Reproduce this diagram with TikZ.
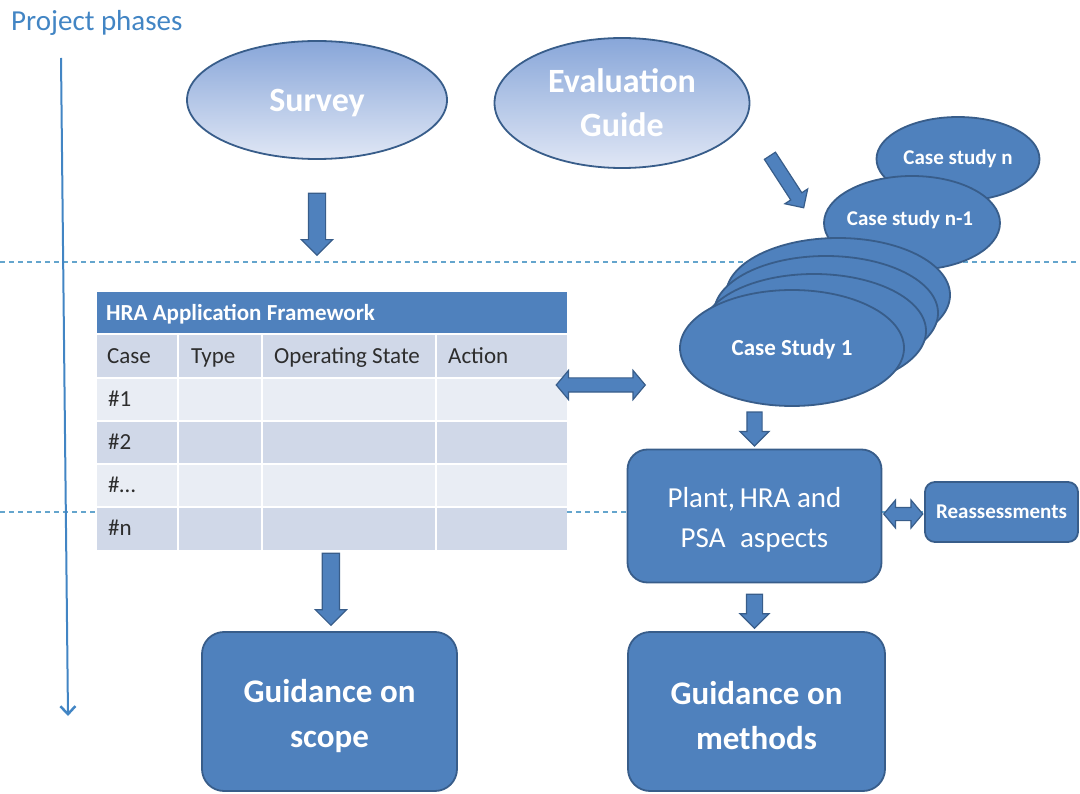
\documentclass[tikz,border=0pt]{standalone}
\usepackage{fontspec}
\setmainfont{Carlito}
\usetikzlibrary{shapes.geometric,shapes.arrows,calc,arrows.meta}

\definecolor{accent}{RGB}{79,129,189}
\definecolor{accentdark}{RGB}{56,93,138}
\definecolor{ellTop}{RGB}{136,166,217}
\definecolor{ellBot}{RGB}{224,231,245}
\definecolor{cellA}{RGB}{208,216,232}
\definecolor{cellB}{RGB}{233,237,244}
\definecolor{phase}{RGB}{66,133,196}
\definecolor{dashc}{RGB}{100,165,205}
\definecolor{celltext}{RGB}{45,45,45}

% invisible strut that pushes a label's first line down a little
\newcommand\topstrut[1]{\rule{0pt}{#1}}

\tikzset{
  fnt/.style n args={2}{font=\fontsize{#1}{#2}\selectfont},
  bfnt/.style n args={2}{font=\fontsize{#1}{#2}\selectfont\bfseries},
  ell/.style={ellipse, draw=accentdark, line width=1.8pt, top color=ellTop,
    bottom color=ellBot, text=white, inner sep=0pt, align=center},
  cse/.style={ellipse, draw=accentdark, line width=1.8pt, fill=accent,
    text=white, inner sep=0pt, align=center},
  box/.style={rectangle, draw=accentdark, line width=1.8pt, fill=accent,
    text=white, inner sep=0pt, align=center},
  % #1 = half shaft width, arrow head extend set separately
  barrow/.style={single arrow, draw=accentdark, fill=accent, line width=1.2pt,
    inner xsep=0pt, inner ysep=#1, minimum width=0pt, single arrow head indent=0pt},
  darrow/.style={double arrow, draw=accentdark, fill=accent, line width=1.2pt,
    inner xsep=0pt, inner ysep=#1, minimum width=0pt, double arrow head indent=0pt,
    double arrow tip angle=100},
  sepline/.style={dashc, line width=1.1pt, dash pattern=on 5pt off 4pt},
  celltxt/.style={anchor=base west, inner sep=0pt, text=celltext, fnt={23}{27}},
}

\begin{document}
\begin{tikzpicture}[x=1pt,y=-1pt]
\useasboundingbox (0,0) rectangle (1080,794);

% phase separators
\coordinate (sepAl) at (0,262);   \coordinate (sepAr) at (1080,262);
\coordinate (sepBl) at (0,512);   \coordinate (sepBr) at (1080,512);
\draw[sepline] (sepAl) -- (sepAr);
\draw[sepline] (sepBl) -- (sepBr);

% project phases axis
\node[anchor=west, inner sep=0pt, text=phase, fnt={29}{35}] (phases) at (11,23) {Project phases};
\coordinate (ptop) at (61,58);
\coordinate (pbot) at (68,716);
\draw[phase, line width=2pt, -{Straight Barb[length=8pt,width=15pt,line width=2.5pt]}] (ptop) -- (pbot);

% inputs
\node[ell, bfnt={34}{44}, minimum width=260pt, minimum height=118pt] (survey) at (317,100) {\topstrut{28pt}Survey};
\node[ell, bfnt={34}{44}, minimum width=255pt, minimum height=130pt] (eval) at (622,103) {Evaluation\\Guide};

% stack of case studies, back to front
\node[cse, bfnt={21}{25}, minimum width=163pt, minimum height=84pt] (csn) at (958,159) {};
\node[bfnt={21}{25}, text=white, inner sep=0pt] (csnlbl) at (958,159) {Case study n};
\node[cse, bfnt={21}{25}, minimum width=176pt, minimum height=94pt] (csn1) at (912,223) {};
\node[bfnt={21}{25}, text=white, inner sep=0pt] (csn1lbl) at (910,220) {Case study n-1};
\node[cse, minimum width=224pt, minimum height=114pt] (cs4) at (838,295) {};
\node[cse, minimum width=224pt, minimum height=114pt] (cs3) at (826,313) {};
\node[cse, minimum width=224pt, minimum height=114pt] (cs2) at (814,331) {};
\node[cse, bfnt={23}{27}, minimum width=224pt, minimum height=116pt] (cs1) at (792,348) {\topstrut{19pt}Case Study 1};

% HRA application framework table
\node[minimum width=470pt, minimum height=258pt, inner sep=0pt] (tbl) at (332,421) {};
\fill[accent] (97,292) rectangle (567,333);
\fill[cellA] (97,335) rectangle (567,378);
\fill[cellB] (97,378) rectangle (567,421);
\fill[cellA] (97,421) rectangle (567,464);
\fill[cellB] (97,464) rectangle (567,507);
\fill[cellA] (97,507) rectangle (567,550);
\draw[white, line width=2.5pt]
  (178,335) -- (178,550) (262,335) -- (262,550) (436,335) -- (436,550)
  (97,378) -- (567,378) (97,421) -- (567,421) (97,464) -- (567,464) (97,507) -- (567,507);
\node[anchor=base west, inner sep=0pt, text=white, bfnt={23}{27}] (hdr) at (106,320.5) {HRA Application Framework};
\node[celltxt] (hcase) at (107,363.5) {Case};
\node[celltxt] (htype) at (191,363.5) {Type};
\node[celltxt] (hstate) at (274,363.5) {Operating State};
\node[celltxt] (haction) at (448,363.5) {Action};
\node[celltxt] (r1) at (108,406.5) {\#1};
\node[celltxt] (r2) at (108,449.5) {\#2};
\node[celltxt] (r3) at (108,492.5) {\#…};
\node[celltxt] (r4) at (108,535.5) {\#n};

% process boxes
\node[box, fnt={29}{40}, minimum width=254pt, minimum height=133pt, rounded corners=20pt] (plant) at (754.5,516) {\topstrut{28pt}Plant,\,HRA and\\PSA\enspace aspects};
\node[box, bfnt={21}{25}, minimum width=153pt, minimum height=60pt, rounded corners=10pt] (reass) at (1001.5,512) {Reassessments};
\node[box, bfnt={33}{45}, minimum width=255pt, minimum height=159pt, rounded corners=22pt] (scope) at (329.5,711.5) {\topstrut{33pt}Guidance on\\scope};
\node[box, bfnt={33}{45}, minimum width=257pt, minimum height=159pt, rounded corners=22pt] (methods) at (756.5,711.5) {\topstrut{31pt}Guidance on\\methods};

% block arrows
\path (survey.south) -- (survey.south |- tbl.north)
  node[barrow=8pt, pos=0.455, rotate=-90, minimum height=62pt, single arrow head extend=7pt] (aSurvey) {};
\node[barrow=6pt, rotate=-57, minimum height=62pt, single arrow head extend=7pt] (aEval) at ($(eval.center)+(163,76)$) {};
\path (tbl.south) -- (scope.north)
  node[barrow=8pt, pos=0.43, rotate=-90, minimum height=72pt, single arrow head extend=7pt] (aScope) {};
\path (plant.north |- cs1.south) -- (plant.north)
  node[barrow=7pt, pos=0.44, rotate=-90, minimum height=34pt, single arrow head extend=7pt] (aCase) {};
\path (plant.south) -- (plant.south |- methods.north)
  node[barrow=7.5pt, pos=0.5, rotate=-90, minimum height=34pt, single arrow head extend=6.5pt] (aPlant) {};
\path ($(tbl.east)+(0,-36)$) -- ($(cs1.west)+(0,37)$)
  node[darrow=6.5pt, pos=0.3, minimum height=89pt, double arrow head extend=7.5pt] (aTable) {};
\path (plant.east) -- (reass.west)
  node[darrow=6pt, midway, minimum height=39pt, double arrow head extend=7.5pt] (aReass) {};
\end{tikzpicture}
\end{document}
